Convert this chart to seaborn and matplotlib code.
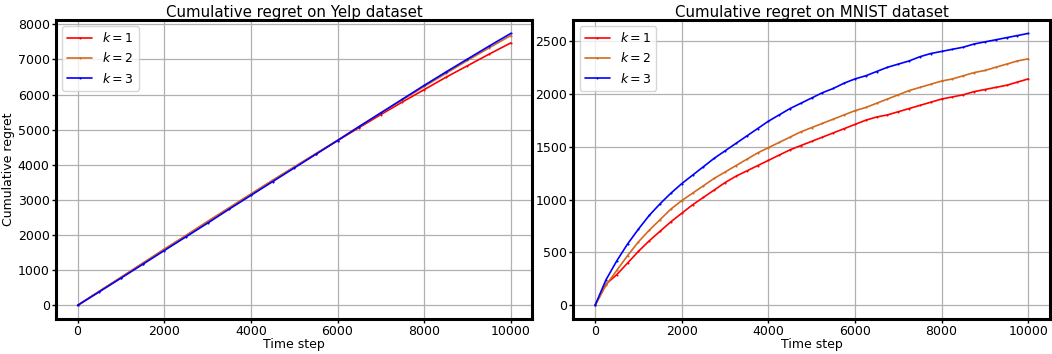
import numpy as np
import pandas as pd
import matplotlib
matplotlib.use("Agg")
import matplotlib.pyplot as plt
import seaborn as sns

# Yelp, sampled every 500 steps
yelp_steps = list(range(0, 10001, 500))
yelp_k1 = [0, 400, 790, 1190, 1590, 1980, 2380, 2770, 3160, 3550, 3930,
           4310, 4690, 5060, 5430, 5790, 6140, 6490, 6820, 7150, 7470]
yelp_k2 = [0, 400, 800, 1200, 1600, 1990, 2390, 2780, 3170, 3560, 3940,
           4320, 4700, 5090, 5470, 5850, 6230, 6600, 6970, 7330, 7680]
yelp_k3 = [0, 385, 775, 1165, 1560, 1950, 2340, 2740, 3130, 3520, 3910,
           4300, 4690, 5090, 5480, 5870, 6260, 6640, 7010, 7380, 7740]

# MNIST, sampled every 250 steps
mnist_steps = list(range(0, 10001, 250))
mnist_k1 = [0, 200, 290, 400, 510, 610, 700, 790, 870, 950, 1020,
            1090, 1160, 1220, 1270, 1320, 1370, 1420, 1470, 1510, 1550,
            1590, 1630, 1670, 1710, 1750, 1780, 1800, 1830, 1860, 1890,
            1920, 1950, 1970, 1990, 2020, 2040, 2060, 2080, 2110, 2140]
mnist_k2 = [0, 190, 330, 470, 600, 710, 810, 910, 990, 1060, 1130,
            1200, 1260, 1320, 1380, 1440, 1490, 1540, 1590, 1640, 1680,
            1720, 1760, 1800, 1840, 1870, 1910, 1950, 1990, 2030, 2060,
            2090, 2120, 2140, 2170, 2200, 2220, 2250, 2280, 2310, 2330]
mnist_k3 = [0, 240, 420, 580, 720, 850, 960, 1060, 1150, 1230, 1310,
            1390, 1460, 1530, 1600, 1670, 1740, 1800, 1860, 1910, 1960,
            2010, 2050, 2100, 2140, 2170, 2210, 2250, 2280, 2310, 2350,
            2380, 2400, 2420, 2440, 2470, 2490, 2510, 2530, 2550, 2570]

labels = ["$k=1$", "$k=2$", "$k=3$"]
colors = ["red", "chocolate", "blue"]


def to_long(steps, series):
    frames = []
    for lab, vals in zip(labels, series):
        frames.append(pd.DataFrame({"step": steps, "regret": vals, "k": lab}))
    return pd.concat(frames, ignore_index=True)


sns.set_style("whitegrid")
plt.rcParams["font.family"] = ["DejaVu Sans"]
plt.rcParams["text.color"] = "black"
plt.rcParams["axes.labelcolor"] = "black"
plt.rcParams["xtick.color"] = "black"
plt.rcParams["ytick.color"] = "black"

fig, axes = plt.subplots(1, 2, figsize=(10.52, 3.54), dpi=100)

panels = [
    (axes[0], to_long(yelp_steps, [yelp_k1, yelp_k2, yelp_k3]), "Cumulative regret on Yelp dataset"),
    (axes[1], to_long(mnist_steps, [mnist_k1, mnist_k2, mnist_k3]), "Cumulative regret on MNIST dataset"),
]

for ax, df, title in panels:
    sns.lineplot(data=df, x="step", y="regret", hue="k", palette=colors,
                 marker=".", markersize=3, markeredgewidth=0, linewidth=1.2, ax=ax)
    ax.set_title(title, fontsize=10.8, pad=2, color="black")
    ax.set_xlabel("Time step", fontsize=9, labelpad=0)
    ax.set_ylabel("")
    ax.set_xticks([0, 2000, 4000, 6000, 8000, 10000])
    ax.tick_params(length=3, width=1, color="black", labelcolor="black",
                   direction="out", labelsize=9, pad=1.5, bottom=True, left=True)
    ax.grid(True, color="#b0b0b0", linewidth=0.9)
    ax.margins(x=0.05, y=0.05)
    for sp in ax.spines.values():
        sp.set_visible(True)
        sp.set_color("black")
        sp.set_linewidth(2.2)
    ax.legend(loc="upper left", fontsize=9, handlelength=2.0, framealpha=0.8)

axes[0].set_ylabel("Cumulative regret", fontsize=9, labelpad=2)
axes[0].set_yticks(range(0, 8001, 1000))

fig.subplots_adjust(left=0.0532, right=0.998, top=0.944, bottom=0.099, wspace=0.086)
fig.savefig("out.png", dpi=100)
